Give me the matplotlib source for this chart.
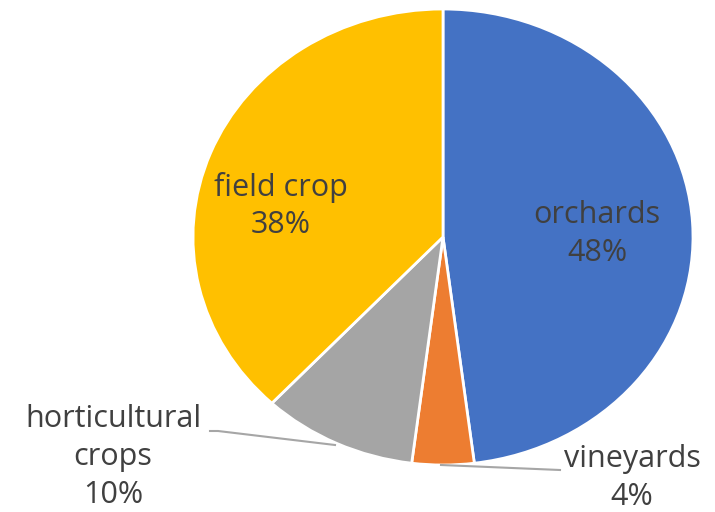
import matplotlib.pyplot as plt

labels = ["orchards", "vineyards", "horticultural\ncrops", "field crop"]
shares = [48, 4, 10, 38]
colors = ["#4472C4", "#ED7D31", "#A5A5A5", "#FFC000"]

W, H = 715, 512
cx, cy = 443, 237          # pie centre in pixels (from top)
rx, ry = 250, 228          # Excel stretched the pie a bit


def px(x, y):
    # pixel position (from top-left) -> data units
    return (x - cx) / rx, (cy - y) / ry


fig = plt.figure(figsize=(W / 100, H / 100), dpi=100)
ax = fig.add_axes([0, 0, 1, 1])
ax.pie(shares, colors=colors, startangle=90, counterclock=False,
       wedgeprops=dict(edgecolor="white", linewidth=2))
ax.set_aspect("auto")
ax.set_xlim(-cx / rx, (W - cx) / rx)
ax.set_ylim(-(H - cy) / ry, cy / ry)
ax.axis("off")

font = dict(family=["Open Sans", "DejaVu Sans"], fontsize=22, color="#404040",
            ha="center", va="center", linespacing=1.34)

# inside labels
ax.text(*px(597, 234), f"{labels[0]}\n{shares[0]}%", **font)
ax.text(*px(281, 206), f"{labels[3]}\n{shares[3]}%", **font)

# outside labels with leader lines
ax.text(*px(632, 478), f"{labels[1]}\n{shares[1]}%", **font)
ax.text(*px(113, 457), f"{labels[2]}\n{shares[2]}%", **font)

lc = "#A6A6A6"
x0, y0 = px(441, 465)
x1, y1 = px(560, 470)
ax.plot([x0, x1], [y0, y1], color=lc, lw=1.5, clip_on=False)
x0, y0 = px(335, 445)
x1, y1 = px(218, 431)
x2, y2 = px(210, 431)
ax.plot([x0, x1, x2], [y0, y1, y2], color=lc, lw=1.5, clip_on=False)

fig.savefig("out.png", dpi=100)
